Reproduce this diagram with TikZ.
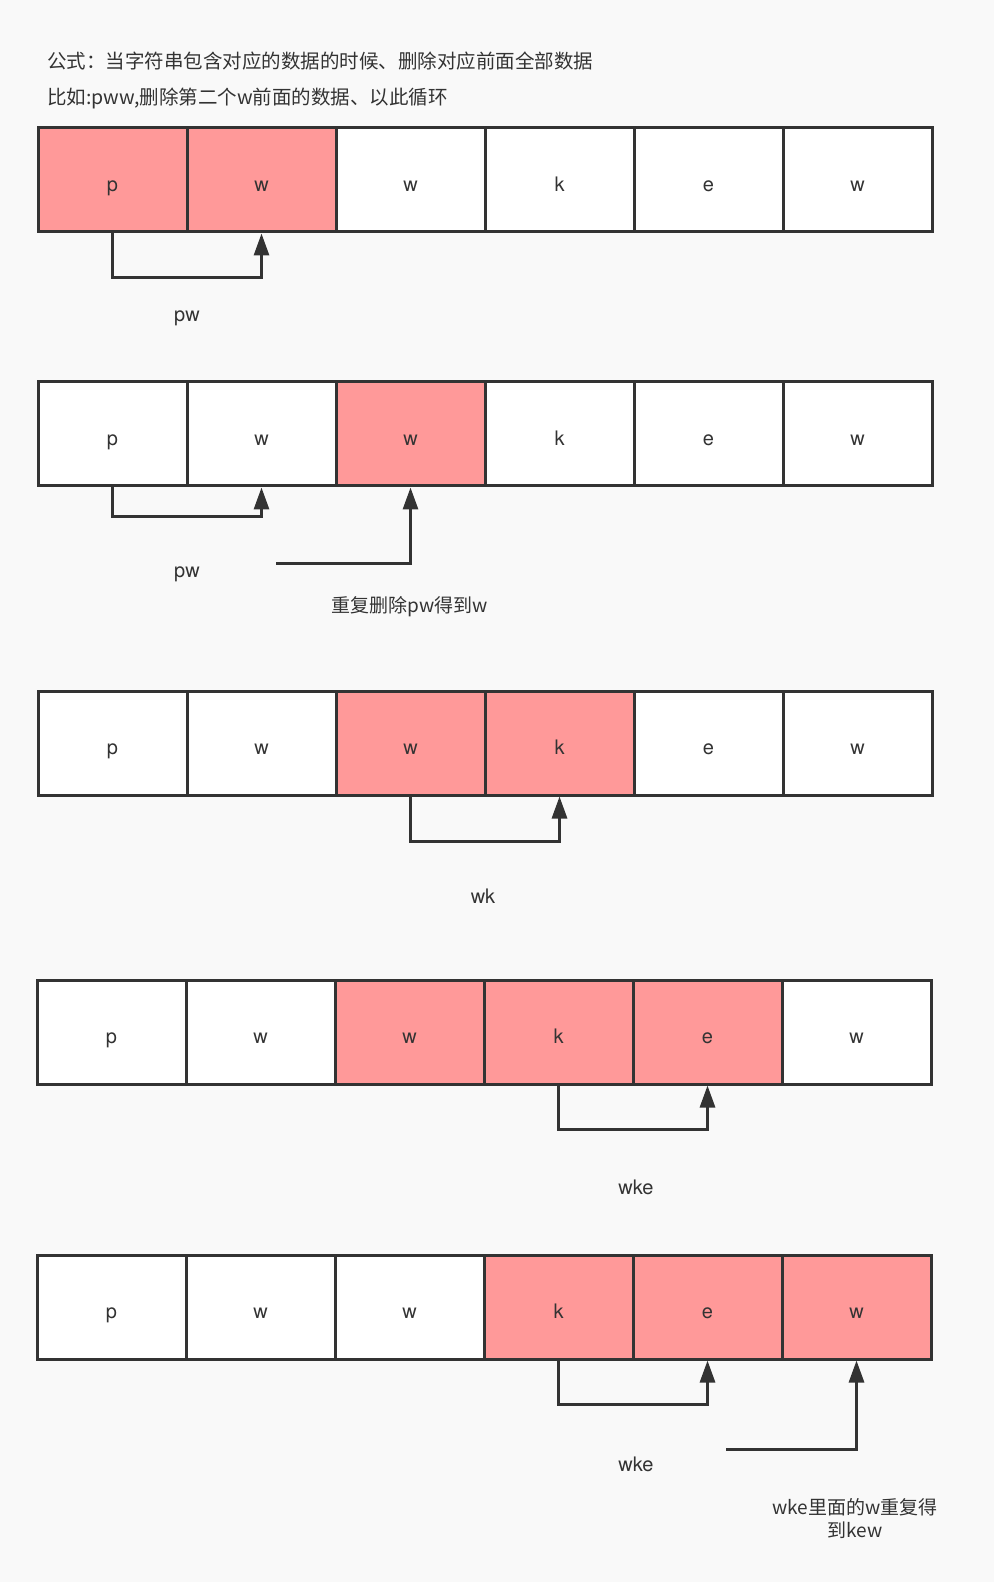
\documentclass[tikz,border=0pt]{standalone}
\usepackage{fontspec}
\setmainfont{Noto Sans CJK SC}
\newfontfamily\latin{TeX Gyre Heros}
\usetikzlibrary{arrows.meta}
\definecolor{paper}{HTML}{F9F9F9}
\definecolor{hit}{HTML}{FF9999}
\definecolor{ink}{HTML}{333333}

\begin{document}
\begin{tikzpicture}[x=0.5pt,y=-0.5pt,
  cell/.style={draw=ink, line width=1.5pt, minimum width=74.5pt, minimum height=52pt,
    inner sep=0pt, text height=11.5pt, text depth=0pt, text=ink, font=\latin\fontsize{10}{12}\selectfont},
  link/.style={draw=ink, line width=1.5pt, -{Triangle[length=11pt,width=7.5pt]}},
  note/.style={text=ink, inner sep=0pt, font=\fontsize{9.5}{11.5}\selectfont},
  word/.style={note, anchor=base, font=\latin\fontsize{10}{12}\selectfont}]
\fill[paper] (0,0) rectangle (994,1582);
\useasboundingbox (0,0) rectangle (994,1582);
% heading
\node[note, anchor=west, font=\fontsize{9.75}{12}\selectfont] (rule) at (47,61) {公式：当字符串包含对应的数据的时候、删除对应前面全部数据};
\node[note, anchor=west, font=\fontsize{9.75}{12}\selectfont] (eg) at (47,98) {比如:pww,删除第二个w前面的数据、以此循环};
% five rows of cells, red ones from \a to \b
\foreach \r/\y/\dx/\a/\b in {1/180/0/1/2, 2/434/0/3/3, 3/743/0/3/4, 4/1032/-1/3/5, 5/1307/-1/4/6} {
  \foreach \l [count=\i] in {p,w,w,k,e,w} {
    \def\fillc{white}
    \ifnum\i<\a\else\ifnum\i>\b\else\def\fillc{hit}\fi\fi
    \node[cell, fill=\fillc] (r\r c\i) at ({112.5+149*(\i-1)+\dx},\y) {\l};
  }
}
% links
\draw[link] (r1c1.south) -- ++(0,44) -| (r1c2.south);
\node[word] (pw1) at (187,322) {pw};
\draw[link] (r2c1.south) -- ++(0,29) -| (r2c2.south);
\node[word] (pw2) at (187,577) {pw};
\coordinate (s2) at (276,563);
\draw[link] (s2) -| (r2c3.south);
\node[note, anchor=base] (got2) at (410,612) {重复删除pw得到w};
\draw[link] (r3c3.south) -- ++(0,45) -| (r3c4.south);
\node[word] (wk3) at (483,903) {wk};
\draw[link] (r4c4.south) -- ++(0,44) -| (r4c5.south);
\node[word] (wke4) at (636,1194) {wke};
\draw[link] (r5c4.south) -- ++(0,44) -| (r5c5.south);
\node[word] (wke5) at (636,1471) {wke};
\coordinate (s5) at (726,1449);
\draw[link] (s5) -| (r5c6.south);
\node[note, align=center] (got5) at (855,1519) {wke里面的w重复得\\到kew};
\end{tikzpicture}
\end{document}
